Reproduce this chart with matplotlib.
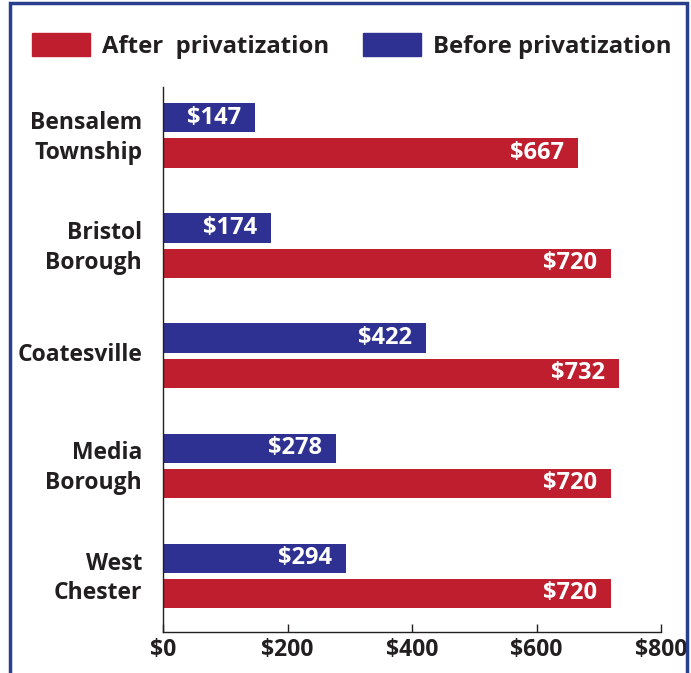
import numpy as np
import matplotlib
matplotlib.use("Agg")
import matplotlib.pyplot as plt
from matplotlib.patches import Rectangle, Patch

places = ["Bensalem\nTownship", "Bristol\nBorough", "Coatesville", "Media\nBorough", "West\nChester"]
before = [147, 174, 422, 278, 294]
after = [667, 720, 732, 720, 720]
xticks = [0, 200, 400, 600, 800]

red = "#be1e2d"
blue = "#2e3192"
ink = "#231f20"

plt.rcParams["font.family"] = ["Open Sans", "DejaVu Sans"]
plt.rcParams["font.weight"] = "bold"

fig = plt.figure(figsize=(6.91, 6.73), dpi=100)
ax = fig.add_axes([0.2359, 0.0609, 0.7207, 0.8098])

y = np.arange(len(places))
off = 0.16
h = 0.265
b1 = ax.barh(y - off, before, height=h, color=blue)
b2 = ax.barh(y + off, after, height=h, color=red)

for bars, vals in ((b1, before), (b2, after)):
    for bar, v in zip(bars, vals):
        ax.annotate(f"${v}", (bar.get_width(), bar.get_y() + bar.get_height() / 2),
                    xytext=(-10, 0), textcoords="offset points", ha="right", va="center",
                    color="white", fontsize=17, fontweight="bold")

ax.set_xlim(0, 800)
ax.set_ylim(len(places) - 0.49, -0.44)
ax.set_xticks(xticks)
ax.set_xticklabels([f"${t}" for t in xticks])
ax.set_yticks(y - 0.03)
ax.set_yticklabels(places, linespacing=1.3)
ax.tick_params(axis="x", direction="in", length=6, width=1, color=ink, labelsize=16.5, labelcolor=ink, pad=4)
ax.tick_params(axis="y", length=0, labelsize=16.5, labelcolor=ink, pad=15)
for s in ("top", "right"):
    ax.spines[s].set_visible(False)
for s in ("left", "bottom"):
    ax.spines[s].set_color(ink)
    ax.spines[s].set_linewidth(1)

handles = [Patch(color=red, label="After  privatization"), Patch(color=blue, label="Before privatization")]
fig.legend(handles=handles, loc="center", bbox_to_anchor=(0.509, 0.932), ncol=2, frameon=False,
           fontsize=17.2, handlelength=2.4, handleheight=1.1, handletextpad=0.5, columnspacing=1.45,
           labelcolor=ink)

fig.patches.append(Rectangle((0.0145, -0.1), 0.979, 1.096, transform=fig.transFigure,
                             fill=False, edgecolor="#283f8e", linewidth=2.5))

fig.savefig("out.png", dpi=100)
